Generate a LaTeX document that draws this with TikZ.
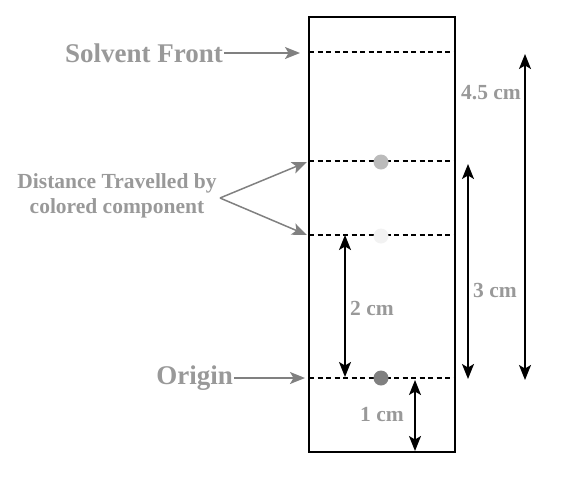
\documentclass[tikz,border=0pt]{standalone}
\usepackage{fontspec}
\setmainfont{Liberation Serif}
\usetikzlibrary{arrows.meta}
\definecolor{lbl}{HTML}{999999}
\definecolor{gline}{HTML}{808080}
\tikzset{
  dim/.style={black, line width=1.5pt, {Stealth[length=15pt,width=12pt,inset=3.5pt]}-{Stealth[length=15pt,width=12pt,inset=3.5pt]}},
  pointer/.style={gline, line width=1.5pt, -{Stealth[length=15pt,width=12pt,inset=3.5pt]}},
  front/.style={black, dash pattern=on 5pt off 3.5pt, line width=1.2pt},
  biglbl/.style={text=lbl, font=\bfseries\fontsize{27}{30}\selectfont, inner sep=1pt},
  smalllbl/.style={text=lbl, font=\bfseries\fontsize{21.5}{25.5}\selectfont, inner sep=1pt, align=center},
  spot/.style={circle, minimum size=15pt, inner sep=0pt},
}
\begin{document}
\begin{tikzpicture}[x=1pt,y=-1pt]
\useasboundingbox (0,0) rectangle (570,480);
% strip
\draw[line width=1.5pt] (309,17) rectangle (455,452);
% lines
\coordinate (sfL) at (309,52); \coordinate (sfR) at (455,52);
\coordinate (aL) at (309,161); \coordinate (aR) at (455,161);
\coordinate (bL) at (309,235); \coordinate (bR) at (455,235);
\coordinate (oL) at (309,378); \coordinate (oR) at (455,378);
\draw[front] (sfL) -- (sfR);
\draw[front] (aL) -- (aR);
\draw[front] (bL) -- (bR);
\draw[front] (oL) -- (oR);
% spots
\node[spot, fill={rgb,255:red,187;green,187;blue,187}] (s1) at (381,162) {};
\node[spot, fill={rgb,255:red,242;green,242;blue,242}] (s2) at (381,236) {};
\node[spot, fill={rgb,255:red,128;green,128;blue,128}] (s3) at (381,378) {};
% labels left
\node[biglbl, anchor=east] (solv) at (224,53) {Solvent Front};
\coordinate (solvE) at (300,53);
\draw[pointer] (solv.east) -- (solvE);
\node[smalllbl] (dist) at (117,196) {Distance Travelled by\\colored component};
\coordinate (distA) at (220,198);
\coordinate (distB) at (307,162);
\coordinate (distC) at (307,235);
\draw[pointer] (distA) -- (distB);
\draw[pointer] (distA) -- (distC);
\node[biglbl, anchor=east] (orig) at (234,378) {Origin};
\coordinate (origE) at (305,378);
\draw[pointer] (orig.east) -- (origE);
% dimension arrows
\coordinate (d45t) at (525,54); \coordinate (d45b) at (525,380);
\draw[dim] (d45t) -- (d45b);
\node[smalllbl] (l45) at (491,93) {4.5 cm};
\coordinate (d3t) at (468,164); \coordinate (d3b) at (468,379);
\draw[dim] (d3t) -- (d3b);
\node[smalllbl] (l3) at (495,290) {3 cm};
\coordinate (d2t) at (345,235); \coordinate (d2b) at (345,377);
\draw[dim] (d2t) -- (d2b);
\node[smalllbl] (l2) at (372,308) {2 cm};
\coordinate (d1t) at (415,380); \coordinate (d1b) at (415,451);
\draw[dim] (d1t) -- (d1b);
\node[smalllbl] (l1) at (382,414) {1 cm};
\end{tikzpicture}
\end{document}
